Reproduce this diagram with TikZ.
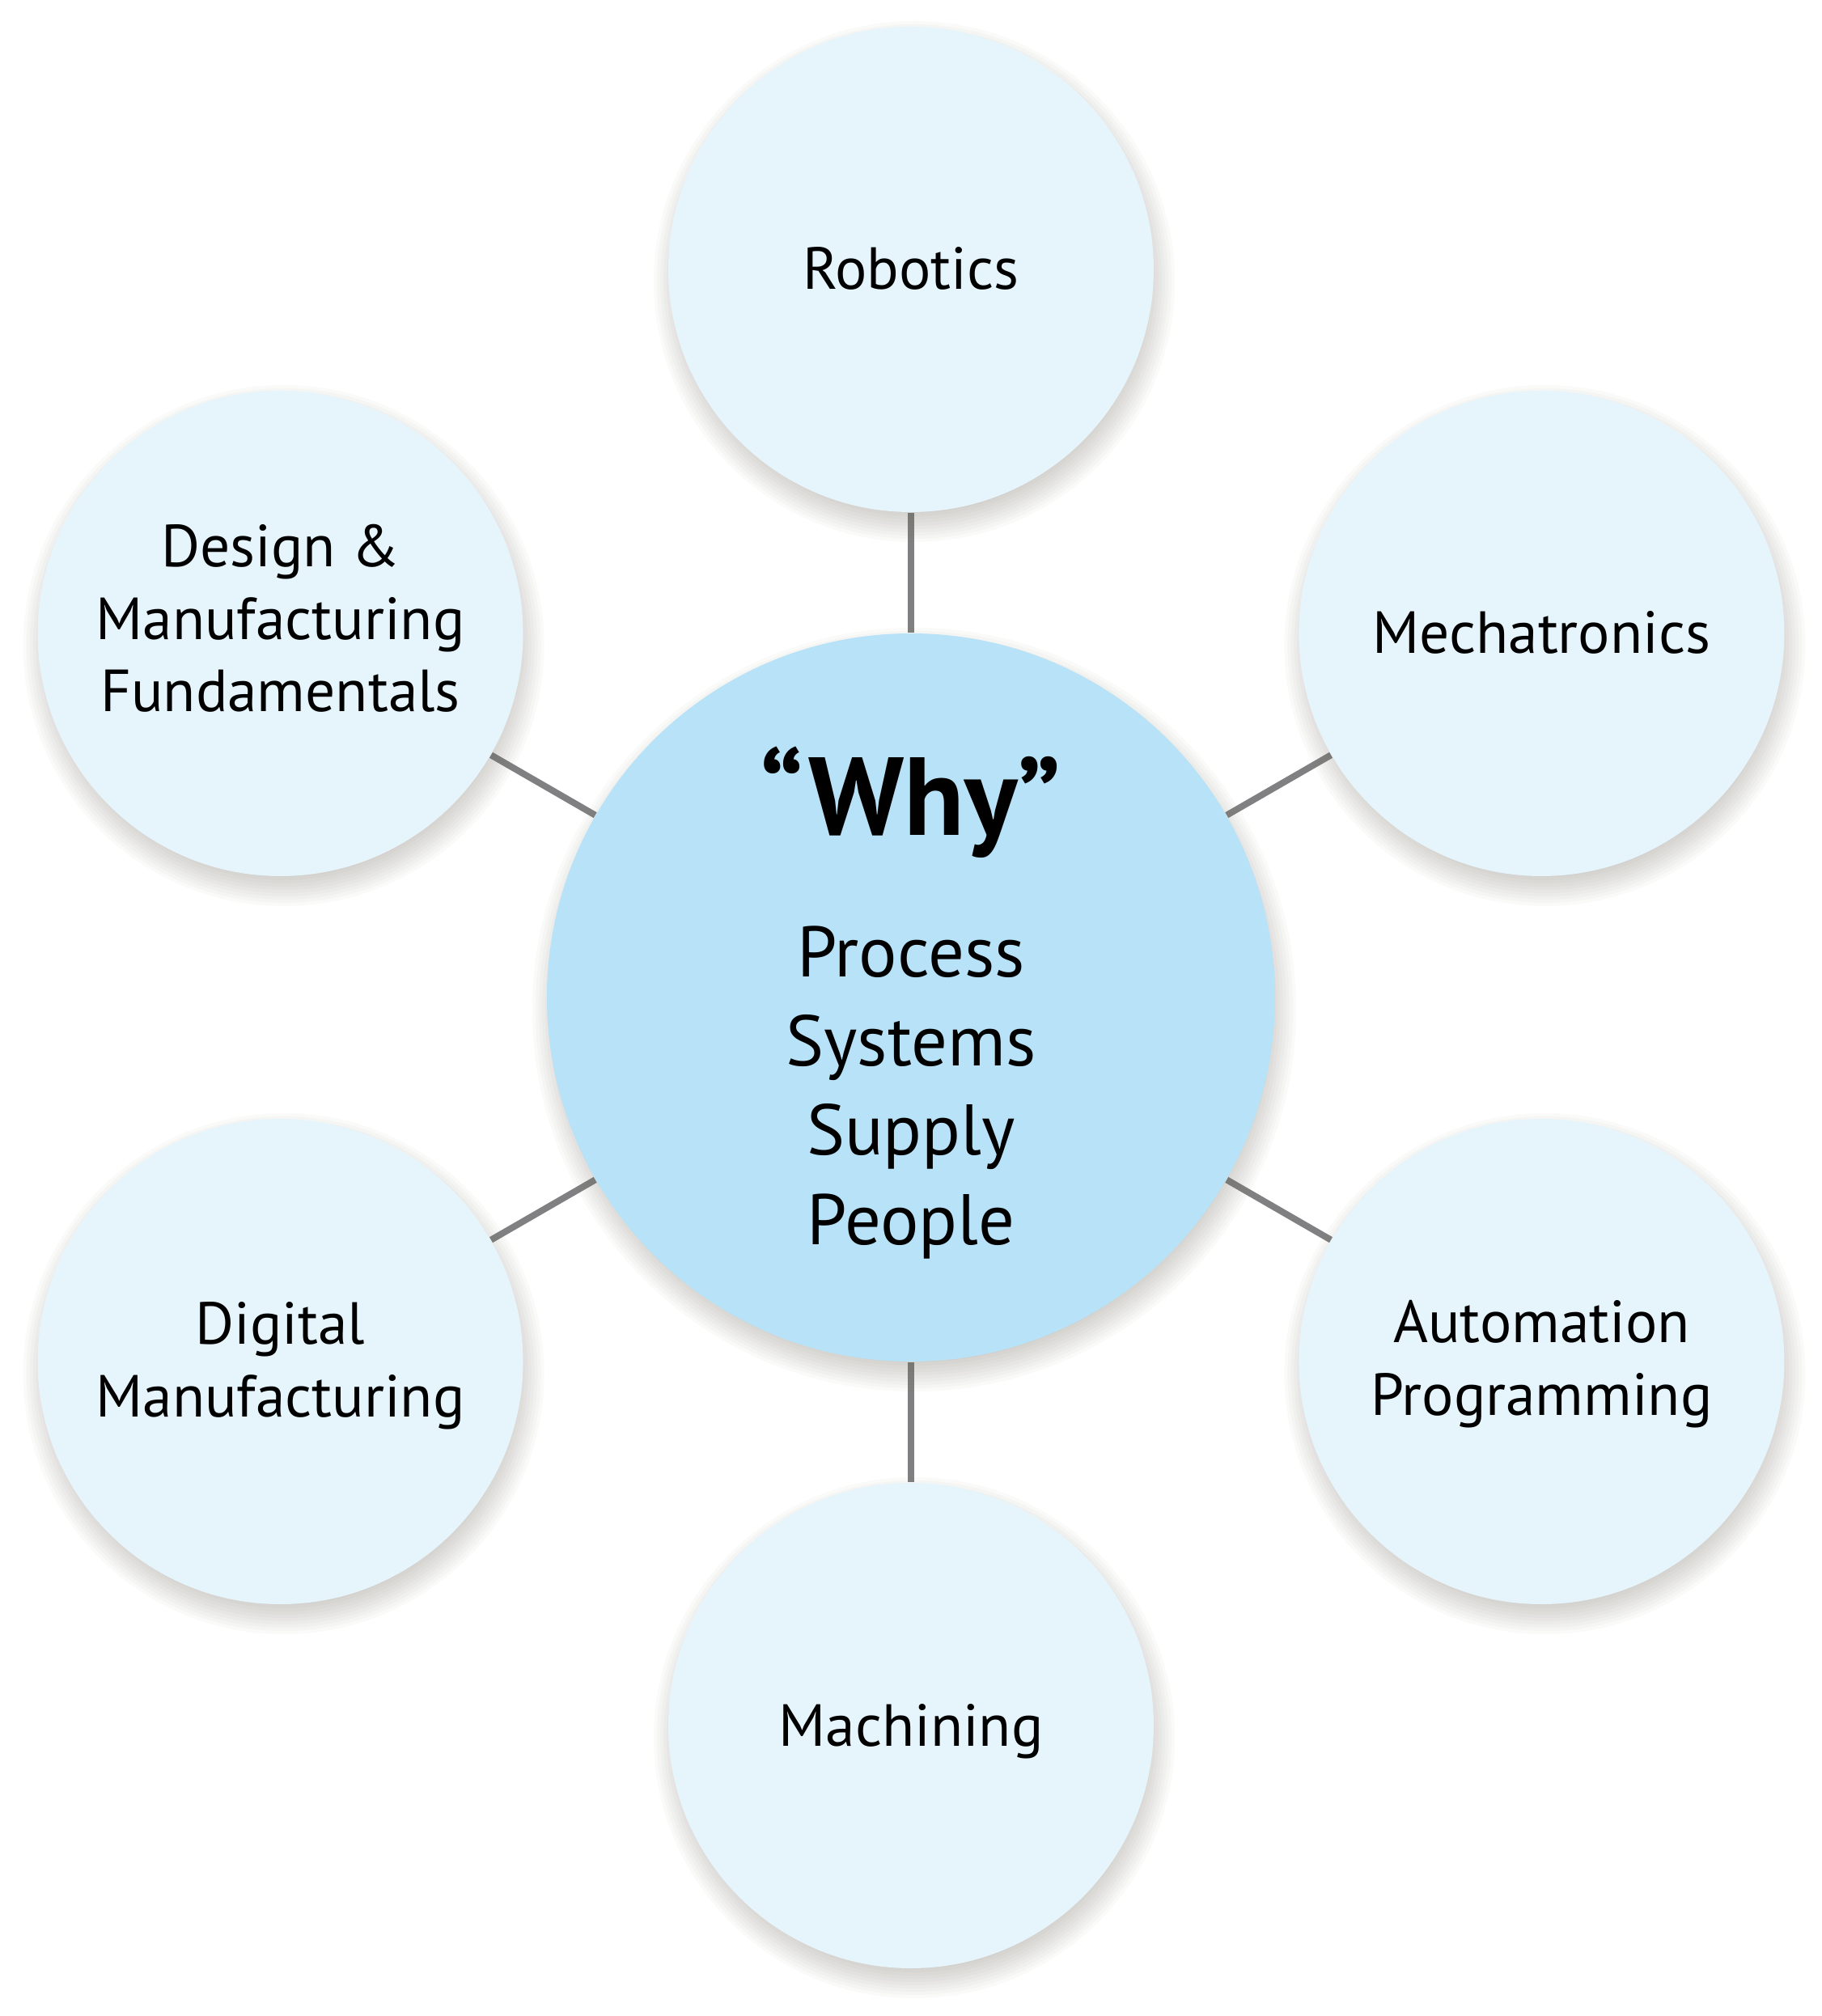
\documentclass[tikz,border=0pt]{standalone}
\usepackage{fontspec}
\setmainfont{PT Sans}
\usetikzlibrary{calc,positioning}
\definecolor{hubblue}{RGB}{183,226,247}
\definecolor{topicblue}{RGB}{230,244,252}
\definecolor{spokegrey}{RGB}{128,128,130}
\definecolor{shadowtone}{RGB}{110,98,88}
\pgfdeclarelayer{paper}
\pgfdeclarelayer{spokes}
\pgfdeclarelayer{shade}
\pgfsetlayers{paper,spokes,shade,main}
\newcommand\topicsize{\fontsize{20.9}{25.6}\selectfont}
\newcommand\hubsize{\fontsize{25.2}{31.3}\selectfont}
\newcommand\whysize{\fontsize{39}{42}\selectfont\bfseries}
\newcommand\softshade[2]{%
    \begin{pgfonlayer}{shade}
        \foreach \k in {0,...,11}
            \fill[shadowtone, opacity=0.033] ($(#1)+(0.04,-0.15)$) circle ({#2+0.22-0.04*\k});
    \end{pgfonlayer}}
\tikzset{
    hub/.style={
        circle,
        fill=hubblue,
        minimum size=9cm,
        inner sep=0pt
    },
    topic/.style={
        circle,
        fill=topicblue,
        minimum size=6cm,
        inner sep=0pt
    },
    topictext/.style={align=center, anchor=base, font=\topicsize},
    hubtext/.style={align=center, anchor=base, font=\hubsize},
    spoke/.style={draw=spokegrey, line width=0.8mm}
}
\begin{document}
\begin{tikzpicture}
    \begin{pgfonlayer}{paper}
        \path[use as bounding box, fill=white] (-11.26,-12.59) rectangle (11.25,12.33);
    \end{pgfonlayer}
    \node[hub] (hub) at (0,0) {};
    \softshade{hub}{4.5}
    \foreach \ang/\nm in {90/rob, 30/mech, -30/auto, -90/mach, 210/digi, 150/desn} {
        \node[topic] (\nm) at (\ang:9) {};
        \softshade{\nm}{3}
        \begin{pgfonlayer}{spokes}
            \draw[spoke] (hub) -- (\nm);
        \end{pgfonlayer}
    }
    \node[font=\whysize, anchor=base] (why) at (0,2.0) {``Why''};
    \node[hubtext] (aims) at (0,-3.05) {Process\\Systems\\Supply\\People};
    \node[topictext] (robtxt) at ($(rob)+(0,-0.25)$) {Robotics};
    \node[topictext] (mechtxt) at ($(mech)+(0,-0.25)$) {Mechatronics};
    \node[topictext] (autotxt) at ($(auto)+(0,-0.66)$) {Automation\\Programming};
    \node[topictext] (machtxt) at ($(mach)+(0,-0.25)$) {Machining};
    \node[topictext] (digitxt) at ($(digi)+(0,-0.68)$) {Digital\\Manufacturing};
    \node[topictext] (desntxt) at ($(desn)+(0,-0.97)$) {Design \&\\Manufacturing\\Fundamentals};
\end{tikzpicture}
\end{document}
